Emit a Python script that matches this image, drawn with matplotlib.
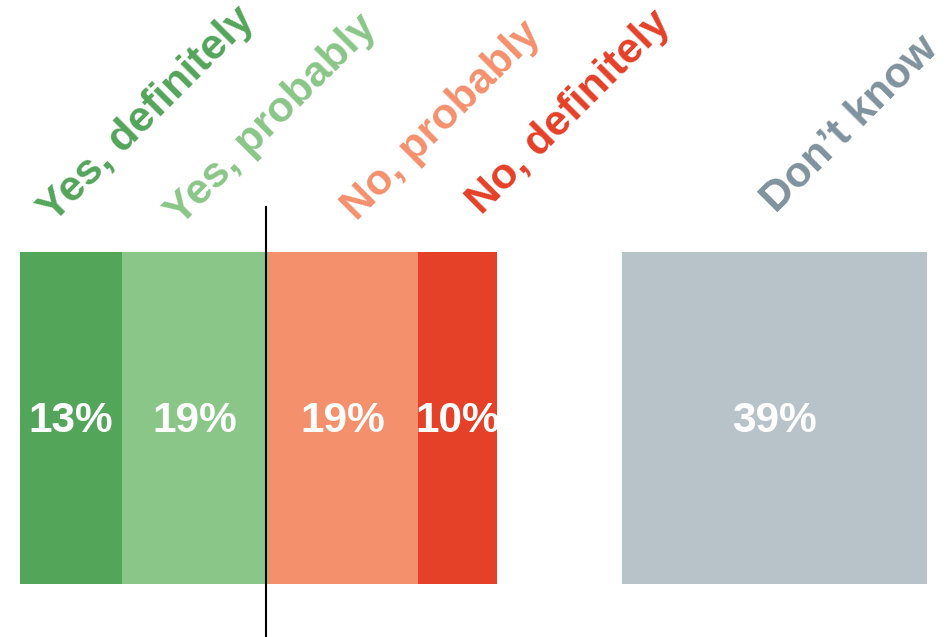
import matplotlib
matplotlib.use("Agg")
import matplotlib.pyplot as plt
import matplotlib.transforms as mtransforms

categories = ["Yes, definitely", "Yes, probably", "No, probably", "No, definitely", "Don\u2019t know"]
values = [13.0, 18.7, 19.2, 10.1, 39.0]
value_labels = ["13%", "19%", "19%", "10%", "39%"]
bar_colors = ["#53a55a", "#8ac688", "#f5906d", "#e54028", "#b8c3c9"]
text_colors = ["#53a55a", "#8ac688", "#f5906d", "#e54028", "#7f929d"]

# layout constants
gap_before_dk = 16.0
label_x = [4.35, 20.5, 43.0, 59.0, 96.7]
label_y = [1.085, 1.075, 1.093, 1.111, 1.114]

plt.rcParams['font.family'] = ['Liberation Sans', 'DejaVu Sans']

W, H = 949, 637
fig = plt.figure(figsize=(W / 100, H / 100), dpi=100)
ax = fig.add_axes([20 / W, (H - 583.7) / H, 907 / W, 331.7 / H])

lefts = []
x = 0.0
for i, v in enumerate(values):
    if i == 4:
        x += gap_before_dk
    lefts.append(x)
    x += v
total = x

ax.barh([0.5] * len(values), values, left=lefts, height=1.0,
        color=bar_colors, edgecolor="none")

for i, (l, v, lab) in enumerate(zip(lefts, values, value_labels)):
    ax.text(l + v / 2, 0.49, lab, ha="center", va="center", color="white",
            fontsize=30.5, fontweight="bold")

trans = mtransforms.blended_transform_factory(ax.transData, ax.transAxes)
for i, cat in enumerate(categories):
    ax.text(label_x[i], label_y[i], cat, rotation=45, rotation_mode="anchor",
            ha="left", va="baseline", color=text_colors[i], fontsize=31,
            fontweight="bold", transform=trans, clip_on=False)

divider = values[0] + values[1]
ax.plot([divider - 0.25, divider - 0.25], [-0.17, 1.137], color="black", lw=1.5,
        transform=trans, clip_on=False, zorder=5)

ax.set_xlim(0, total)
ax.set_ylim(0, 1)
ax.axis("off")

fig.savefig("out.png", dpi=100)
